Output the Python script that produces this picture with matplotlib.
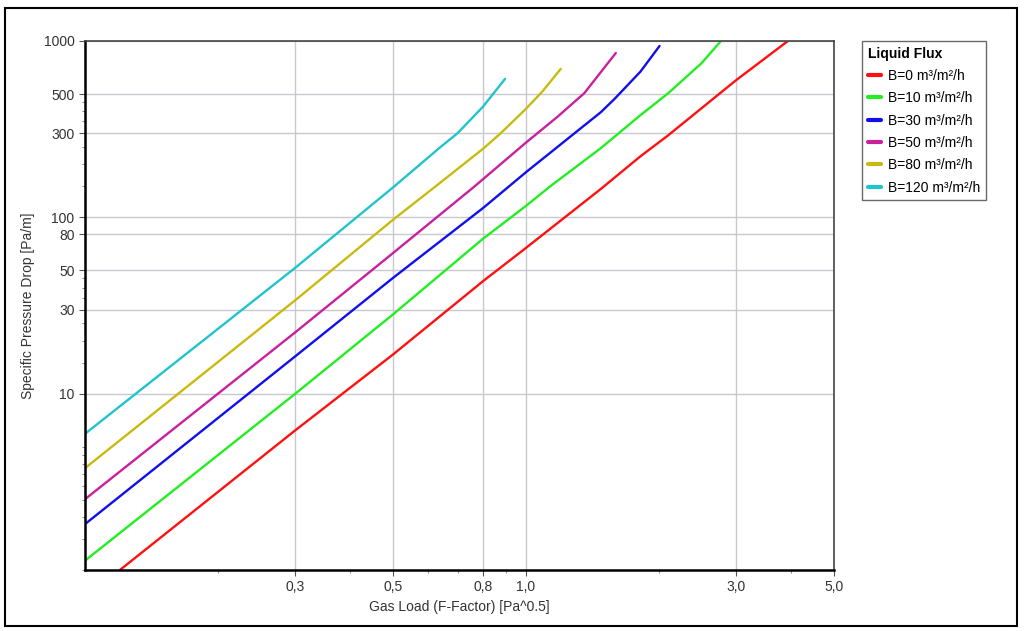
import numpy as np
import matplotlib
matplotlib.use("Agg")
import matplotlib.pyplot as plt
from matplotlib.ticker import FixedLocator, FixedFormatter, LogLocator, NullFormatter
from matplotlib.patches import Rectangle

"Curves read from the chart: gas load (F-factor) vs specific pressure drop"
x_b0 = [0.12, 0.3, 0.5, 0.8, 1.0, 1.48, 1.82, 2.1, 3.0, 3.93]
y_b0 = [1.0, 6.2, 16.7, 43.5, 67, 145, 222, 291, 600, 1000]

x_b10 = [0.1, 0.3, 0.5, 0.8, 1.0, 1.14, 1.48, 1.82, 2.1, 2.5, 2.77]
y_b10 = [1.13, 10.0, 28.2, 75.7, 116, 151, 247, 380, 504, 746, 1000]

x_b30 = [0.1, 0.3, 0.5, 0.8, 1.0, 1.29, 1.48, 1.59, 1.82, 2.01]
y_b30 = [1.82, 16.3, 45.4, 113, 180, 300, 395, 470, 671, 937]

x_b50 = [0.1, 0.3, 0.5, 0.763, 1.0, 1.18, 1.357, 1.6]
y_b50 = [2.52, 22.3, 62.8, 149, 265, 372, 506, 855]

x_b80 = [0.1, 0.3, 0.5, 0.641, 0.8, 0.877, 1.0, 1.09, 1.2]
y_b80 = [3.78, 33.9, 97, 158, 245, 300, 412, 517, 695]

x_b120 = [0.1, 0.3, 0.5, 0.641, 0.7, 0.8, 0.897]
y_b120 = [5.92, 51.8, 148, 251, 300, 425, 610]

series_labels = ["B=0 m³/m²/h", "B=10 m³/m²/h", "B=30 m³/m²/h",
                 "B=50 m³/m²/h", "B=80 m³/m²/h", "B=120 m³/m²/h"]
series_x = [x_b0, x_b10, x_b30, x_b50, x_b80, x_b120]
series_y = [y_b0, y_b10, y_b30, y_b50, y_b80, y_b120]
colors = ["#ff1010", "#22ee22", "#1010ee", "#c8209f", "#c8bb10", "#20c4cc"]

x_ticks = [0.3, 0.5, 0.8, 1.0, 3.0, 5.0]
x_tick_labels = ["0,3", "0,5", "0,8", "1,0", "3,0", "5,0"]
y_ticks = [10, 30, 50, 80, 100, 300, 500, 1000]
y_tick_labels = ["10", "30", "50", "80", "100", "300", "500", "1000"]

plt.rcParams['font.family'] = ['Liberation Sans', 'DejaVu Sans']

fig = plt.figure(figsize=(10.24, 6.31), dpi=100)
ax = fig.add_axes([85 / 1024, 1 - 570 / 631, (834 - 85) / 1024, (570 - 41) / 631])

for xs, ys, lab, c in zip(series_x, series_y, series_labels, colors):
    ax.plot(xs, ys, color=c, lw=1.7, label=lab, solid_capstyle="round")

ax.set_xscale("log")
ax.set_yscale("log")
ax.set_xlim(0.1, 5.0)
ax.set_ylim(1, 1000)

ax.xaxis.set_major_locator(FixedLocator(x_ticks))
ax.xaxis.set_major_formatter(FixedFormatter(x_tick_labels))
ax.yaxis.set_major_locator(FixedLocator(y_ticks))
ax.yaxis.set_major_formatter(FixedFormatter(y_tick_labels))
ax.xaxis.set_minor_locator(LogLocator(base=10, subs=np.arange(2, 10) * 1.0, numticks=20))
ax.yaxis.set_minor_locator(LogLocator(base=10, subs=np.arange(1, 10) * 0.5, numticks=40))
ax.xaxis.set_minor_formatter(NullFormatter())
ax.yaxis.set_minor_formatter(NullFormatter())

ax.tick_params(which="major", length=4, width=0.8, color="#555555", labelsize=10, labelcolor="#333333")
ax.tick_params(which="minor", length=2, width=0.6, color="#777777")

ax.grid(True, which="major", color="#c8c8d0", lw=1.0)
ax.set_axisbelow(True)

for side in ["left", "bottom"]:
    ax.spines[side].set_linewidth(1.8)
    ax.spines[side].set_color("black")
for side in ["top", "right"]:
    ax.spines[side].set_linewidth(1.2)
    ax.spines[side].set_color("#444444")

ax.set_xlabel("Gas Load (F-Factor) [Pa^0.5]", fontsize=10, color="#333333", labelpad=4)
ax.set_ylabel("Specific Pressure Drop [Pa/m]", fontsize=10, color="#333333", labelpad=6)

leg = ax.legend(loc="upper left", bbox_to_anchor=(862 / 1024, 1 - 41 / 631),
                bbox_transform=fig.transFigure, title="Liquid Flux",
                fontsize=10, title_fontproperties={"weight": "bold", "size": 10},
                frameon=True, fancybox=False, edgecolor="#444444",
                handlelength=1.0, handletextpad=0.5, labelspacing=0.6,
                borderpad=0.4, borderaxespad=0)
leg._legend_box.align = "left"
leg.get_frame().set_linewidth(1.0)
for line in leg.get_lines():
    line.set_linewidth(3)

fig.patches.append(Rectangle((5 / 1024, 1 - 626 / 631), 1012 / 1024, 618 / 631,
                             transform=fig.transFigure, fill=False,
                             edgecolor="black", lw=1.5))

fig.savefig("out.png", dpi=100)
